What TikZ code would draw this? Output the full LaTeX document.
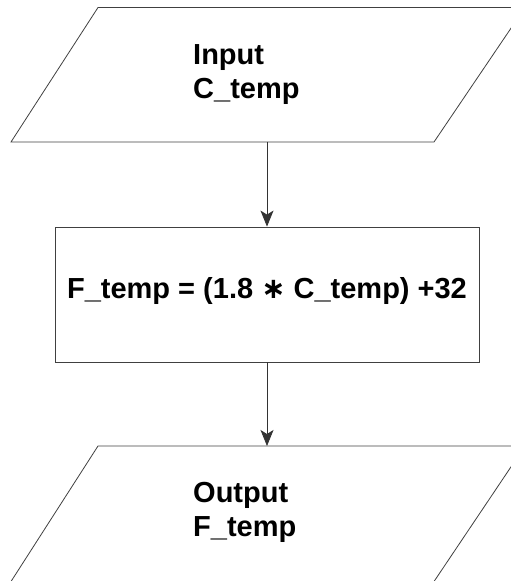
\documentclass[tikz,border=0pt]{standalone}
\usepackage{fontspec}
\setmainfont{Liberation Sans}
\newfontfamily\symfont{DejaVu Sans}
\usetikzlibrary{arrows.meta}
\begin{document}
\begin{tikzpicture}[x=1pt,y=1pt,
  shapeline/.style={draw=black!75,line width=0.8pt},
  lbl/.style={font=\fontsize{29}{31}\selectfont\bfseries,inner sep=0pt,anchor=base west},
  flow/.style={draw=black!80,line width=0.8pt,-{Stealth[length=16pt,width=13pt,inset=4pt]}}]
\useasboundingbox (0,0) rectangle (511,581);
\clip (0,0) rectangle (511,581);
% input parallelogram
\draw[shapeline] (98,573.5) -- (525,573.5) -- (434,439) -- (11,439) -- cycle;
\coordinate (inbot) at (267,439);
\node[lbl] (in1) at (193,516) {Input};
\node[lbl] (in2) at (193,482.7) {C\_temp};
% process box
\node[shapeline,minimum width=424pt,minimum height=135pt,inner sep=0pt] (proc) at (267,286.5) {};
\node[font=\fontsize{29}{31}\selectfont\bfseries,inner sep=0pt,anchor=base] (form) at (267,282.7) {F\_temp = (1.8 {\symfont\bfseries ∗} C\_temp) +32};
% output parallelogram
\draw[shapeline] (98,135) -- (525,135) -- (434,-0.5) -- (11,-0.5) -- cycle;
\coordinate (outtop) at (267,135);
\node[lbl] (out1) at (193,78) {Output};
\node[lbl] (out2) at (193,44) {F\_temp};
% connectors
\draw[flow] (inbot) -- (proc.north);
\draw[flow] (proc.south) -- (outtop);
\end{tikzpicture}
\end{document}
